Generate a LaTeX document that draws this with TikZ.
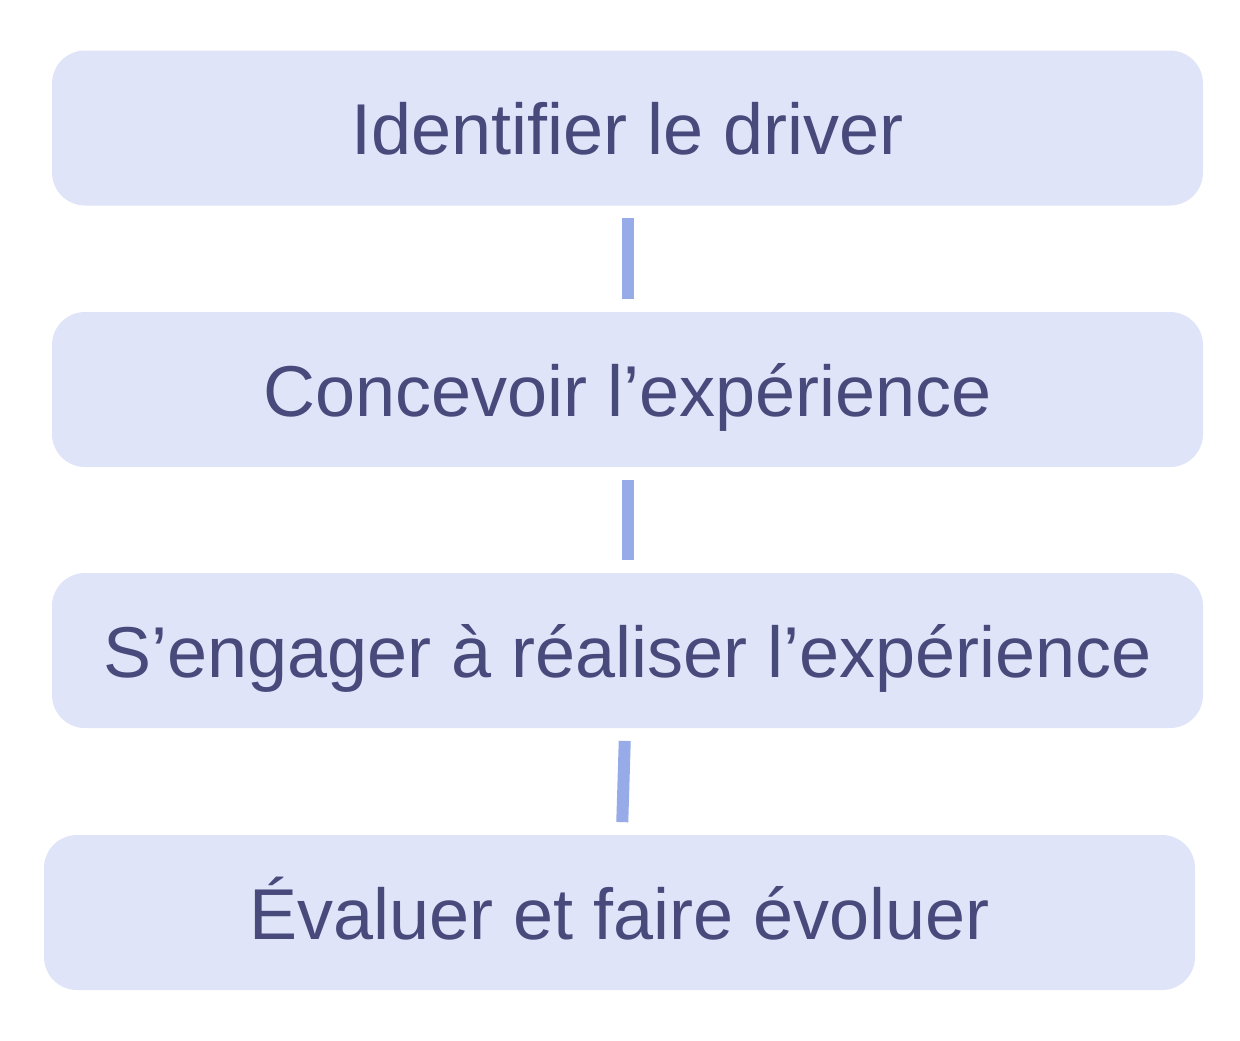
\documentclass[tikz,border=0pt]{standalone}
\usepackage{fontspec}
\setmainfont{Liberation Sans}
\usepackage{xcolor}
\definecolor{boxfill}{HTML}{DFE4F8}
\definecolor{boxtext}{HTML}{484A7C}
\definecolor{linkcol}{HTML}{97ABE8}
\begin{document}
\begin{tikzpicture}[x=0.5pt,y=-0.5pt,
		stage/.style={fill=boxfill,text=boxtext,rounded corners=16.5pt,minimum width=575.5pt,minimum height=77.5pt,inner sep=0pt,text height=30pt,text depth=3.5pt,font=\fontsize{36}{43}\selectfont},
		link/.style={linkcol,line width=6pt,shorten <=6.25pt,shorten >=6.25pt}]
		\useasboundingbox (0,0) rectangle (1240,1040);
		% steps
		\node[stage] (s1) at (627.5,128) {Identifier le driver};
		\node[stage] (s2) at (627.5,389.5) {Concevoir l’expérience};
		\node[stage] (s3) at (627.5,650.5) {S’engager à réaliser l’expérience};
		\node[stage] (s4) at (619.5,912.5) {Évaluer et faire évoluer};
		% links
		\draw[link] (s1) -- (s2);
		\draw[link] (s2) -- (s3);
		\draw[link] (s3) -- (s4);
	\end{tikzpicture}
\end{document}
